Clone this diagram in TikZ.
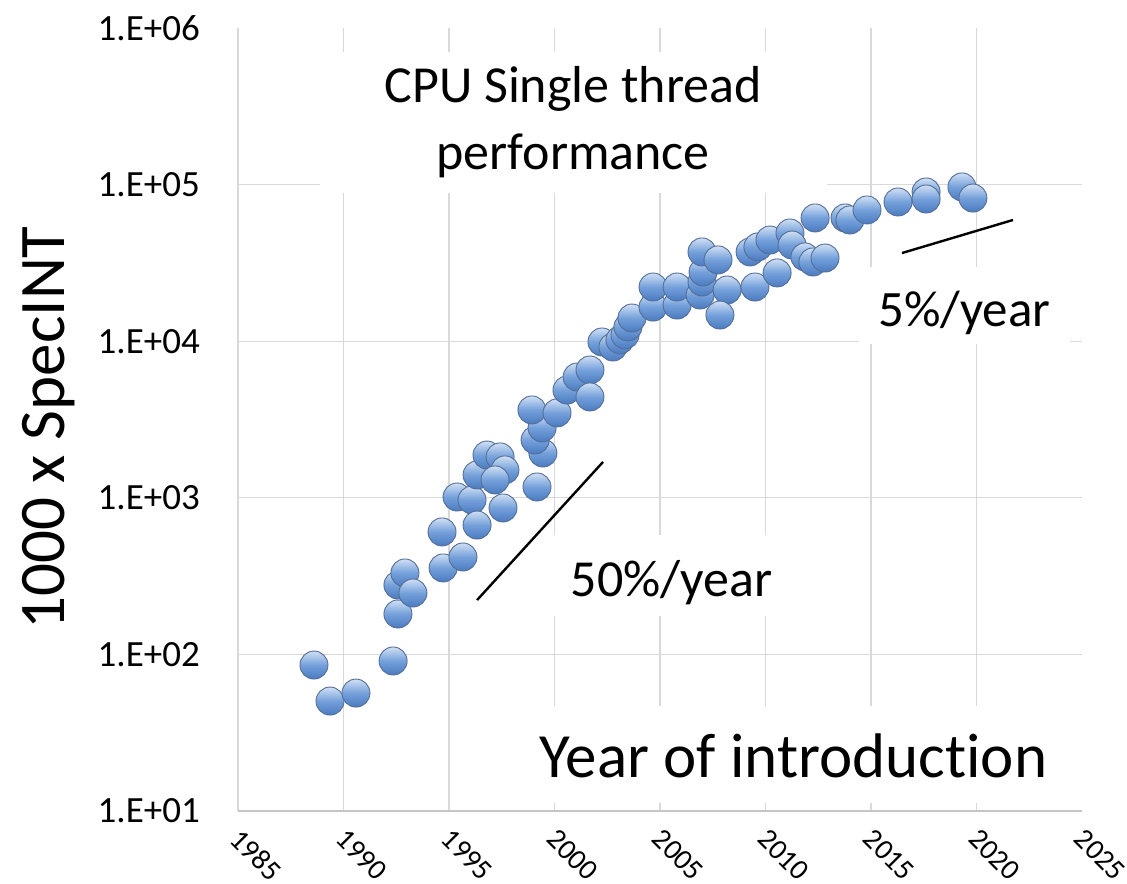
\documentclass[tikz,border=0pt]{standalone}
\usepackage{fontspec}
\setmainfont[Ligatures={NoCommon}]{Carlito}
\usetikzlibrary{positioning}
\definecolor{gridgray}{RGB}{217,217,217}
\definecolor{axisgray}{RGB}{198,198,198}
\definecolor{bubtop}{RGB}{208,224,245}
\definecolor{bubmid}{RGB}{116,160,218}
\definecolor{bubbot}{RGB}{74,122,192}
\definecolor{bubedge}{RGB}{85,110,150}

\begin{document}
\begin{tikzpicture}[
    x=21.1pt, y=156.6pt,
    grid/.style={draw=gridgray, line width=1.2pt},
    axisline/.style={draw=axisgray, line width=1.4pt},
    bubble/.style={circle, draw=bubedge, line width=0.9pt, top color=bubtop, bottom color=bubbot, middle color=bubmid, minimum size=28pt, inner sep=0pt},
    ytick/.style={anchor=east, inner sep=0pt, font=\fontsize{37}{44}\selectfont},
    xtick/.style={rotate=-45, inner sep=0pt, font=\fontsize{29}{35}\selectfont},
    textbox/.style={fill=white, inner xsep=19pt, inner ysep=0pt, anchor=base},
    trend/.style={line width=2.4pt}
]

% canvas (x = year - 1985, y = log10 - 1)
\useasboundingbox[fill=white] (-11.280,-0.4598) rectangle (42.133,5.1788);

% grid and axes
\foreach \x in {5,10,...,35}
    \draw[grid] (\x,0) -- (\x,5);
\foreach \y in {1,...,4}
    \draw[grid] (0,\y) -- (40,\y);
\draw[grid] (0,0) -- (0,5);
\draw[axisline] (0,0) -- (40,0);

% tick labels
\foreach \e in {1,...,6}
    \node[ytick] (ylab\e) at (-1.801,{\e-1}) {1.E+0\e};
\foreach \yr in {1985,1990,...,2025}
    \node[xtick] (xlab\yr) at ({\yr-1985+0.853},-0.281) {\yr};

% axis titles
\node[rotate=90, anchor=base, inner sep=0pt, font=\fontsize{65}{78}\selectfont] (ytitle) at (-8.246,2.446) {1000 x SpecINT};
\node[textbox, text height=71pt, text depth=26pt, font=\fontsize{63}{76}\selectfont] (xtitle) at (26.33,0.217) {Year of introduction};

% chart title
\node[fill=white, minimum width=507pt, minimum height=141pt, align=center, font=\fontsize{52}{67}\selectfont] (title) at (15.88,4.397) {CPU Single thread\\performance};

% data points
\foreach \x/\y [count=\i] in {
    3.60/0.932, 4.36/0.702, 5.59/0.753, 7.35/0.958,
    7.58/1.258, 7.58/1.443, 7.91/1.520, 8.29/1.392,
    9.72/1.552, 10.66/1.622, 9.67/1.782, 10.38/2.005,
    11.09/1.986, 11.33/1.826, 11.33/2.146, 11.80/2.273,
    12.42/2.261, 12.65/2.178, 12.18/2.114, 12.56/1.935,
    14.17/2.069, 14.45/2.286, 14.08/2.369, 14.41/2.446,
    13.93/2.561, 15.12/2.542, 15.59/2.688, 16.07/2.771,
    16.68/2.816, 16.68/2.644, 17.25/2.995, 17.77/2.963,
    18.10/3.008, 18.34/3.040, 18.48/3.091, 18.67/3.148,
    19.67/3.218, 19.67/3.346, 20.81/3.231, 20.81/3.346,
    21.90/3.295, 21.99/3.378, 22.04/3.442, 21.99/3.570,
    22.75/3.519, 23.18/3.327, 22.84/3.167, 24.50/3.346,
    25.55/3.436, 24.27/3.570, 24.64/3.602, 25.21/3.646,
    26.16/3.691, 26.26/3.614, 26.87/3.538, 27.25/3.506,
    27.82/3.531, 27.35/3.787, 28.77/3.787, 29.00/3.774,
    29.81/3.838, 31.28/3.889, 32.61/3.953, 32.61/3.908,
    34.31/3.985, 34.83/3.914}
    \node[bubble] (b\i) at (\x,\y) {};

% growth rates
\coordinate (fastA) at (11.33,1.347);
\coordinate (fastB) at (17.30,2.229);
\draw[trend] (fastA) -- (fastB);
\node[textbox, text height=62pt, text depth=19pt, font=\fontsize{52}{62}\selectfont] (fastlab) at (20.55,1.367) {50\%/year};

\coordinate (slowA) at (31.47,3.563);
\coordinate (slowB) at (36.73,3.774);
\draw[trend] (slowA) -- (slowB);
\node[textbox, text height=60pt, text depth=17pt, font=\fontsize{51}{61}\selectfont] (slowlab) at (34.43,3.091) {5\%/year};

\end{tikzpicture}
\end{document}
